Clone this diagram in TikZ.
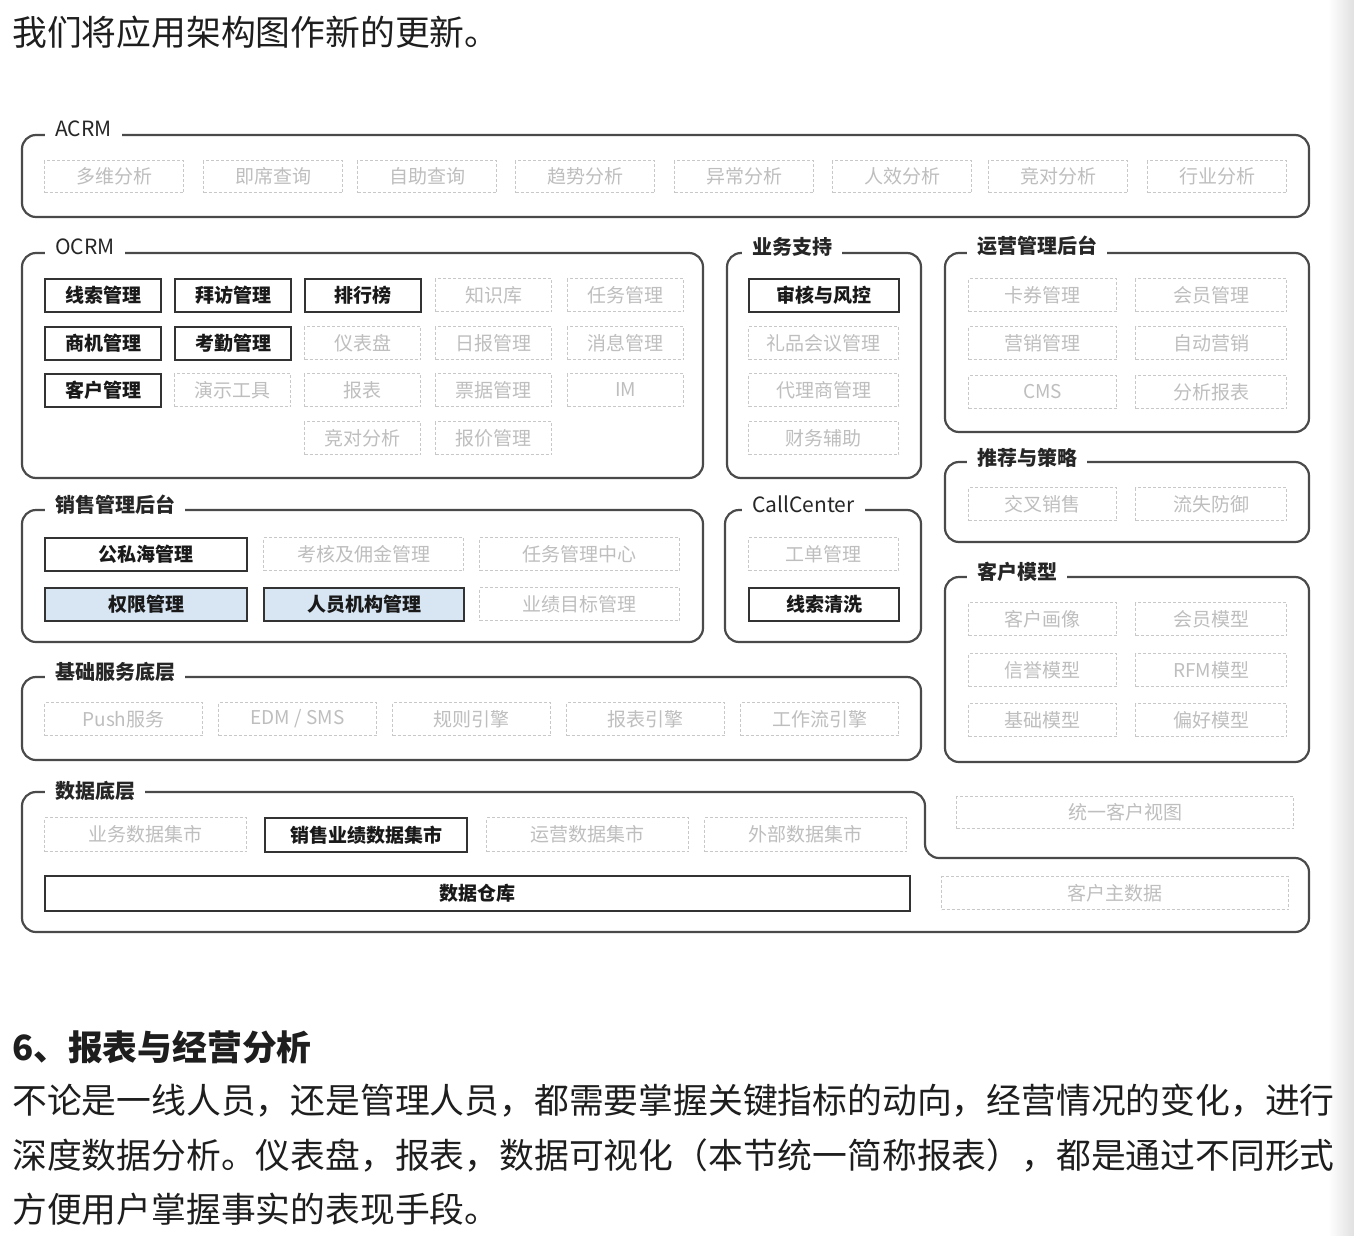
\documentclass[tikz,border=0pt]{standalone}
\usepackage{fontspec}
\setmainfont{Noto Sans CJK SC}
\definecolor{framegray}{HTML}{4A4A4A}
\definecolor{ghostline}{HTML}{C8C8C8}
\definecolor{ghosttext}{HTML}{BEBEBE}
\definecolor{roleblue}{HTML}{D8E5F3}
\definecolor{bodytext}{HTML}{1E1E1E}
\tikzset{
  layer/.style={draw=framegray, line width=2.2pt, rounded corners=14pt},
  layertitle/.style={fill=white, anchor=west, inner xsep=10pt, inner ysep=2pt,
    text=black!85, font=\fontsize{20}{22}\selectfont},
  itembase/.style={anchor=north west, inner sep=0pt, font=\fontsize{19}{21}\selectfont},
  solidbox/.style={itembase, draw=black!80, line width=2pt, text=black!90},
  ghostbox/.style={itembase, draw=ghostline, line width=1pt, dash pattern=on 3pt off 2pt, text=ghosttext},
  bluebox/.style={solidbox, fill=roleblue},
  bodyline/.style={anchor=west, inner sep=0pt, text=bodytext, font=\fontsize{34.8}{36}\selectfont},
}
\begin{document}
\begin{tikzpicture}[x=1pt, y=-1pt]
  \useasboundingbox (0,0) rectangle (1354,1236);
  \fill[white] (0,0) rectangle (1354,1236);
  \shade[left color=white, right color=black!12] (1328,0) rectangle (1354,1236);

  % text above and below
  \node[bodyline] (intro) at (12,32) {我们将应用架构图作新的更新。};
  \node[bodyline, font=\fontsize{34.8}{36}\selectfont\bfseries] (heading) at (12,1047) {6、报表与经营分析};
  \node[bodyline] (para1) at (12,1101) {不论是一线人员，还是管理人员，都需要掌握关键指标的动向，经营情况的变化，进行};
  \node[bodyline] (para2) at (12,1155) {深度数据分析。仪表盘，报表，数据可视化（本节统一简称报表），都是通过不同形式};
  \node[bodyline] (para3) at (12,1209) {方便用户掌握事实的表现手段。};

  % layer frames
  \draw[layer] (22,135) rectangle (1309,217);
  \draw[layer] (22,253) rectangle (703,478);
  \draw[layer] (727,253) rectangle (921,478);
  \draw[layer] (945,253) rectangle (1309,432);
  \draw[layer] (945,462) rectangle (1309,542);
  \draw[layer] (945,577) rectangle (1309,762);
  \draw[layer] (22,510) rectangle (703,642);
  \draw[layer] (725,510) rectangle (921,642);
  \draw[layer] (22,677) rectangle (921,760);
  \draw[layer] (22,792) -- (925,792) -- (925,858) -- (1309,858) -- (1309,932) -- (22,932) -- cycle;

  % layer titles
  \node[layertitle, font=\fontsize{21}{23}\selectfont] (t-acrm) at (45,129) {ACRM};
  \node[layertitle, font=\fontsize{21}{23}\selectfont] (t-ocrm) at (45,247) {OCRM};
  \node[layertitle, font=\fontsize{20}{22}\selectfont\bfseries] (t-support) at (742,247) {业务支持};
  \node[layertitle, font=\fontsize{20}{22}\selectfont\bfseries] (t-ops) at (967,246) {运营管理后台};
  \node[layertitle, font=\fontsize{20}{22}\selectfont\bfseries] (t-recommend) at (967,458) {推荐与策略};
  \node[layertitle, font=\fontsize{20}{22}\selectfont\bfseries] (t-model) at (967,572) {客户模型};
  \node[layertitle, font=\fontsize{20}{22}\selectfont\bfseries] (t-sales) at (45,505) {销售管理后台};
  \node[layertitle, font=\fontsize{21}{23}\selectfont] (t-call) at (742,504) {CallCenter};
  \node[layertitle, font=\fontsize{20}{22}\selectfont\bfseries] (t-base) at (45,672) {基础服务底层};
  \node[layertitle, font=\fontsize{20}{22}\selectfont\bfseries] (t-data) at (45,791) {数据底层};

  % ACRM
  \foreach \x/\t [count=\i] in {44/多维分析, 203/即席查询, 357/自助查询, 515/趋势分析,
                                674/异常分析, 832/人效分析, 988/竞对分析, 1147/行业分析}
    \node[ghostbox, minimum width=139pt, minimum height=32pt] (acrm\i) at (\x,160) {\t};

  % OCRM
  \foreach \x/\y/\t [count=\i] in {44/278/线索管理, 174/278/拜访管理, 304/278/排行榜,
                                   44/326/商机管理, 174/326/考勤管理, 44/373/客户管理}
    \node[solidbox, font=\fontsize{19}{21}\selectfont\bfseries, minimum width=116pt, minimum height=33pt] (ocrm-s\i) at (\x,\y) {\t};
  \foreach \x/\y/\t [count=\i] in {435/278/知识库, 567/278/任务管理, 304/326/仪表盘, 435/326/日报管理,
                                   567/326/消息管理, 174/373/演示工具, 304/373/报表, 435/373/票据管理,
                                   567/373/IM, 304/421/竞对分析, 435/421/报价管理}
    \node[ghostbox, minimum width=116pt, minimum height=33pt] (ocrm-g\i) at (\x,\y) {\t};

  % 业务支持
  \node[solidbox, font=\fontsize{19}{21}\selectfont\bfseries, minimum width=150pt, minimum height=33pt] (audit) at (748,278) {审核与风控};
  \foreach \y/\t [count=\i] in {326/礼品会议管理, 373/代理商管理, 421/财务辅助}
    \node[ghostbox, minimum width=150pt, minimum height=33pt] (support\i) at (748,\y) {\t};

  % 运营管理后台, 推荐与策略, 客户模型
  \foreach \y/\a/\b [count=\i] in {278/卡券管理/会员管理, 326/营销管理/自动营销, 375/CMS/分析报表,
                                   487/交叉销售/流失防御,
                                   602/客户画像/会员模型, 653/信誉模型/RFM模型, 703/基础模型/偏好模型} {
    \node[ghostbox, minimum width=148pt, minimum height=33pt] (right\i a) at (968,\y) {\a};
    \node[ghostbox, minimum width=151pt, minimum height=33pt] (right\i b) at (1135,\y) {\b};
  }

  % 销售管理后台
  \node[solidbox, font=\fontsize{19}{21}\selectfont\bfseries, minimum width=202pt, minimum height=33pt] (pool) at (44,537) {公私海管理};
  \node[ghostbox, minimum width=200pt, minimum height=33pt] (commission) at (263,537) {考核及佣金管理};
  \node[ghostbox, minimum width=200pt, minimum height=33pt] (taskcenter) at (479,537) {任务管理中心};
  \node[bluebox, font=\fontsize{19}{21}\selectfont\bfseries, minimum width=202pt, minimum height=33pt] (rights) at (44,587) {权限管理};
  \node[bluebox, font=\fontsize{19}{21}\selectfont\bfseries, minimum width=200pt, minimum height=33pt] (staff) at (263,587) {人员机构管理};
  \node[ghostbox, minimum width=200pt, minimum height=33pt] (target) at (479,587) {业绩目标管理};

  % CallCenter
  \node[ghostbox, minimum width=150pt, minimum height=33pt] (ticket) at (748,537) {工单管理};
  \node[solidbox, font=\fontsize{19}{21}\selectfont\bfseries, minimum width=150pt, minimum height=33pt] (cleanse) at (748,587) {线索清洗};

  % 基础服务底层
  \foreach \x/\t [count=\i] in {44/Push服务, 218/{EDM / SMS}, 392/规则引擎, 566/报表引擎, 740/工作流引擎}
    \node[ghostbox, minimum width=158pt, minimum height=33pt] (base\i) at (\x,702) {\t};

  % 数据底层
  \node[ghostbox, minimum width=202pt, minimum height=34pt] (mart1) at (44,817) {业务数据集市};
  \node[solidbox, font=\fontsize{19}{21}\selectfont\bfseries, minimum width=202pt, minimum height=34pt] (mart2) at (264,817) {销售业绩数据集市};
  \node[ghostbox, minimum width=202pt, minimum height=34pt] (mart3) at (486,817) {运营数据集市};
  \node[ghostbox, minimum width=202pt, minimum height=34pt] (mart4) at (704,817) {外部数据集市};
  \node[solidbox, font=\fontsize{19}{21}\selectfont\bfseries, minimum width=865pt, minimum height=35pt] (warehouse) at (44,875) {数据仓库};
  \node[ghostbox, minimum width=337pt, minimum height=32pt] (view) at (956,796) {统一客户视图};
  \node[ghostbox, minimum width=347pt, minimum height=33pt] (master) at (941,876) {客户主数据};
\end{tikzpicture}
\end{document}
